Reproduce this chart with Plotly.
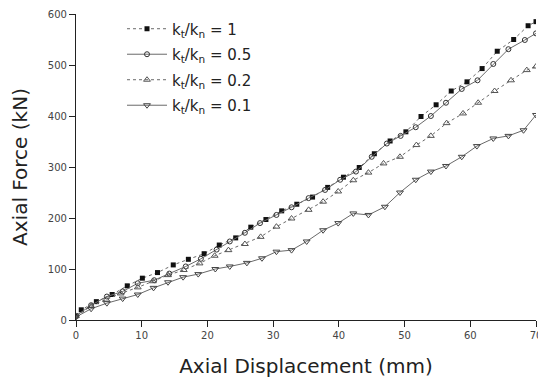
import plotly.graph_objects as go

# ---- data ----
x_k1 = [0, 0.8, 3.1, 5.5, 7.8, 10.1, 12.4, 14.8, 17.1, 19.5, 21.8, 24.3, 26.6, 28.9, 31.3, 33.6,
        36.0, 38.3, 40.7, 43.1, 45.4, 47.8, 50.2, 52.5, 54.8, 57.1, 59.5, 61.8, 64.1, 66.6, 68.8, 70]
y_k1 = [8, 20, 36, 50, 67, 82, 93, 108, 119, 130, 147, 161, 182, 197, 214, 227,
        241, 260, 280, 299, 326, 351, 369, 399, 422, 449, 467, 493, 527, 550, 577, 585]

x_k05 = [0, 2.3, 4.7, 7.1, 9.4, 11.9, 14.2, 16.7, 19.0, 21.4, 23.4, 25.7, 28.0, 30.5, 32.8, 35.4,
         37.9, 40.2, 42.6, 45.0, 47.3, 49.4, 51.7, 54.0, 56.3, 58.7, 61.1, 63.5, 65.8, 68.3, 70]
y_k05 = [8, 29, 46, 56, 72, 78, 91, 105, 120, 138, 154, 171, 190, 206, 221, 239,
         255, 275, 291, 320, 346, 361, 378, 400, 426, 453, 470, 502, 531, 549, 562]

x_k02 = [0, 2.3, 4.6, 6.8, 9.4, 11.7, 14.0, 16.4, 18.8, 21.1, 23.2, 25.7, 28.1, 30.5, 32.8, 35.4,
         37.6, 39.9, 42.2, 44.5, 46.8, 49.3, 51.8, 54.0, 56.4, 58.9, 61.2, 63.7, 66.2, 68.6, 70]
y_k02 = [8, 27, 40, 52, 64, 76, 88, 98, 111, 126, 137, 149, 163, 183, 199, 216,
         232, 252, 274, 289, 307, 320, 343, 361, 386, 405, 426, 449, 470, 490, 497]

x_k01 = [0, 2.3, 4.7, 7.1, 9.4, 11.8, 14.0, 16.3, 18.6, 21.2, 23.4, 26.0, 28.3, 30.5, 32.8, 35.1,
         37.6, 39.9, 42.2, 44.5, 47.0, 49.3, 51.7, 54.0, 56.3, 58.7, 61.0, 63.5, 65.8, 68.1, 70]
y_k01 = [6, 22, 33, 42, 50, 63, 74, 84, 90, 100, 105, 112, 121, 134, 137, 154,
         176, 190, 209, 206, 222, 250, 275, 291, 302, 320, 341, 356, 361, 372, 402]

names = ["k<sub>t</sub>/k<sub>n</sub> = 1", "k<sub>t</sub>/k<sub>n</sub> = 0.5",
         "k<sub>t</sub>/k<sub>n</sub> = 0.2", "k<sub>t</sub>/k<sub>n</sub> = 0.1"]

x_ticks = [0, 10, 20, 30, 40, 50, 60, 70]
y_ticks = [0, 100, 200, 300, 400, 500, 600]

FONT = "'DejaVu Sans', sans-serif"
LINE_COL = "#6a6a6a"

fig = go.Figure()
series = [
    (x_k1, y_k1, names[0], "dot", dict(symbol="square", size=5, color="#111111")),
    (x_k05, y_k05, names[1], "solid", dict(symbol="circle-open", size=5, color="#333333", line=dict(width=1))),
    (x_k02, y_k02, names[2], "dot", dict(symbol="triangle-up-open", size=6, color="#555555", line=dict(width=1))),
    (x_k01, y_k01, names[3], "solid", dict(symbol="triangle-down-open", size=6, color="#444444", line=dict(width=1))),
]
for i, (xs, ys, nm, dash, mk) in enumerate(series):
    fig.add_trace(go.Scatter(
        x=xs, y=ys, name=nm, mode="lines+markers", legendgroup=f"g{i}",
        line=dict(color=LINE_COL, width=1, dash=dash),
        marker=mk,
    ))

fig.update_layout(
    width=538, height=385,
    margin=dict(l=76, r=2, t=14, b=65, autoexpand=False),
    paper_bgcolor="white", plot_bgcolor="white",
    font=dict(family=FONT, color="#222222"),
    showlegend=True,
    legend=dict(
        x=0.1, y=1.005, xanchor="left", yanchor="top",
        bgcolor="rgba(0,0,0,0)", borderwidth=0,
        font=dict(size=15, family=FONT, color="#222222"),
        tracegroupgap=3, itemwidth=40,
    ),
    xaxis=dict(
        range=[0, 70], tickmode="array", tickvals=x_ticks,
        ticktext=[str(v) for v in x_ticks],
        showgrid=False, zeroline=False, automargin=False,
        showline=True, linecolor="#222222", linewidth=1.2,
        ticks="outside", ticklen=6, tickcolor="#222222", tickwidth=1,
        ticklabeloverflow="allow",
        tickfont=dict(size=10, family=FONT, color="#444444"),
        title=dict(text="Axial Displacement (mm)", font=dict(size=20, family=FONT, color="#222222"), standoff=18),
    ),
    yaxis=dict(
        range=[0, 600], tickmode="array", tickvals=y_ticks,
        ticktext=[str(v) for v in y_ticks],
        showgrid=False, zeroline=False, automargin=False,
        showline=True, linecolor="#222222", linewidth=1.2,
        ticks="outside", ticklen=6, tickcolor="#222222", tickwidth=1,
        tickfont=dict(size=10, family=FONT, color="#444444"),
        title=dict(text="Axial Force (kN)", font=dict(size=20, family=FONT, color="#222222"), standoff=14),
    ),
)

fig.write_html("out.html")
